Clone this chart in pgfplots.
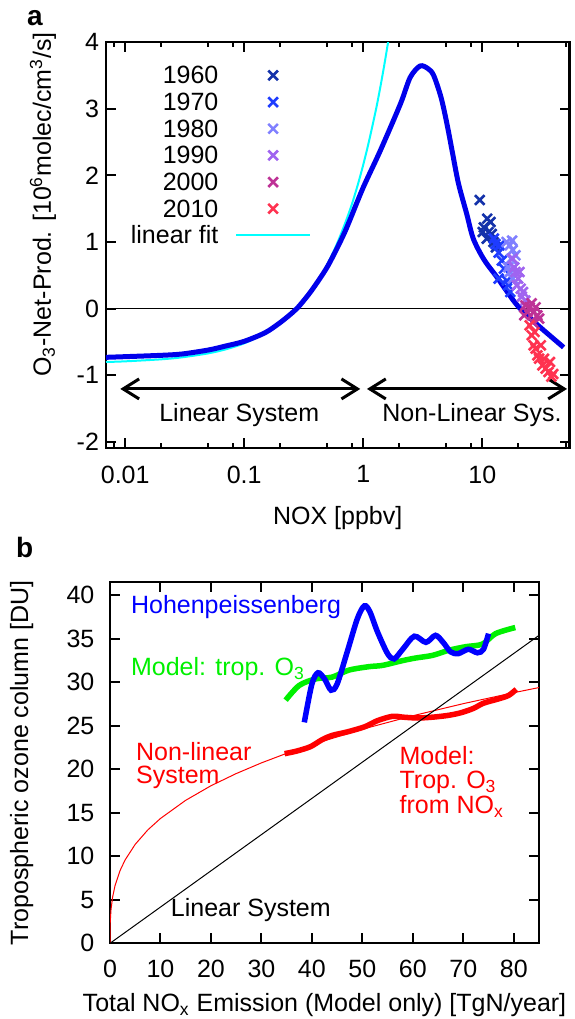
\documentclass[border=0pt]{standalone}
\usepackage{fontspec}
\setmainfont{Liberation Sans}
\usepackage{pgfplots}
\pgfplotsset{compat=1.18}
\usetikzlibrary{arrows.meta}

\definecolor{c1960}{RGB}{20,50,170}
\definecolor{c1970}{RGB}{30,60,255}
\definecolor{c1980}{RGB}{128,128,255}
\definecolor{c1990}{RGB}{160,100,240}
\definecolor{c2000}{RGB}{190,50,150}
\definecolor{c2010}{RGB}{255,50,80}
\definecolor{curveblue}{RGB}{0,0,235}
\definecolor{fitcyan}{RGB}{0,255,255}
\definecolor{mgreen}{RGB}{0,240,0}
\definecolor{mred}{RGB}{255,0,0}
\definecolor{hblue}{RGB}{0,0,255}

\pgfplotsset{
  gp/.style={
    scale only axis,
    tick align=inside,
    major tick length=5pt, minor tick length=2.5pt,
    axis line style={line width=1pt},
    every tick/.append style={black,line width=1pt},
    /pgf/number format/assume math mode=true,
  },
  yr/.style={only marks, mark=x, mark size=3.4pt, line width=1.3pt, color=#1},
}

\begin{document}
\begin{tikzpicture}[font=\fontsize{12.5}{15}\selectfont]
\useasboundingbox (0,0) rectangle (287pt,509.5pt);

% panel a
\begin{axis}[gp,
  at={(53pt,285.5pt)}, anchor=south west,
  width=231.75pt, height=203pt,
  xmode=log, xmin=0.0069, xmax=54, ymin=-2.09, ymax=4,
  xtick={0.01,0.1,1,10}, xticklabels={0.01,0.1,1,10},
  minor xtick={0.008,0.02,0.05,0.08,0.2,0.5,0.8,2,5,8,20,50},
  ytick={-2,-1,0,1,2,3,4},
  xticklabel style={yshift=-5.25pt},
  xlabel={NOX [ppbv]},
  xlabel style={at={(axis description cs:0.5,-0.172)},anchor=center},
  ylabel={O\textsubscript{3}-Net-Prod. [10\textsuperscript{6}molec/cm\textsuperscript{3}/s]},
  ylabel style={at={(axis description cs:-0.136,0.6)},anchor=center},
  legend plot pos=right, legend cell align=right,
  legend image code/.code={\draw[mark repeat=2,mark phase=2,#1] plot coordinates {(0pt,0pt) (18.5pt,0pt) (37pt,0pt)};},
  legend style={draw=none, fill=none, inner sep=0pt,
    at={(axis description cs:0.0485,0.947)}, anchor=north west,
    nodes={inner sep=1pt, text height=9pt, text depth=0.5pt},
    row sep=1.83pt, column sep=7.35pt},
]
\draw[line width=0.5pt] (axis cs:0.0069,0) -- (axis cs:54,0);

\addplot[fitcyan, line width=1pt, smooth, forget plot] coordinates {
(0.0069,-0.80) (0.01,-0.79) (0.02,-0.76) (0.03,-0.73) (0.05,-0.67) (0.07,-0.61)
(0.1,-0.52) (0.15,-0.37) (0.2,-0.22) (0.25,-0.075) (0.3,0.07) (0.4,0.37) (0.5,0.67)
(0.6,0.97) (0.7,1.27) (0.8,1.56) (0.9,1.86) (1.0,2.16) (1.1,2.46) (1.2,2.76)
(1.3,3.05) (1.4,3.35) (1.5,3.65) (1.6,3.95) (1.7,4.25)};

\addplot[curveblue, line width=2.5pt, smooth, forget plot] coordinates {
(0.0069,-0.73) (0.01,-0.72) (0.02,-0.70) (0.03,-0.68) (0.05,-0.62) (0.07,-0.56)
(0.1,-0.49) (0.15,-0.36) (0.2,-0.21) (0.25,-0.07) (0.28,0.01) (0.35,0.22) (0.42,0.42)
(0.5,0.63) (0.6,0.90) (0.7,1.15) (0.78,1.35) (1.0,1.82) (1.39,2.37) (2.05,3.07)
(2.48,3.47) (3.0,3.64) (3.5,3.60) (3.9,3.50) (4.5,3.17) (5.05,2.77) (5.6,2.35)
(6.3,1.88) (7.4,1.42) (8.4,1.05) (10.3,0.74) (13.3,0.47) (18.3,0.12) (22.2,-0.05)
(30.7,-0.28) (48.2,-0.58)};

\addplot[yr=c1960] coordinates {(9.5,1.63) (10.3,1.22) (11.7,1.30) (11.3,1.15) (10.9,1.05)
(12.4,1.00) (11.0,1.35) (12.0,1.12) (10.1,1.15) (13.0,0.92)};
\addlegendentry{1960}
\addplot[yr=c1970] coordinates {(12.9,0.97) (13.7,0.84) (14.6,0.72) (16.1,0.42) (17.2,0.25)
(13.7,0.45) (12.5,1.05) (15.2,0.60) (14.0,0.95) (16.5,0.35)};
\addlegendentry{1970}
\addplot[yr=c1980] coordinates {(16.0,1.00) (17.0,0.95) (17.8,1.02) (18.0,0.88) (17.5,0.75)
(18.5,0.62) (17.0,0.55) (16.5,0.62) (19.0,0.80) (18.0,0.45)};
\addlegendentry{1980}
\addplot[yr=c1990] coordinates {(18.0,0.75) (19.0,0.55) (20.0,0.45) (21.0,0.30) (19.5,0.35)
(22.0,0.25) (18.5,0.62) (20.5,0.55) (21.5,0.18) (23.0,0.12)};
\addlegendentry{1990}
\addplot[yr=c2000] coordinates {(23,0.05) (25,0.02) (27,-0.05) (26,0.08) (29,-0.10)
(24,-0.05) (28,0.02) (30,-0.15) (22.5,-0.10) (26.5,-0.20)};
\addlegendentry{2000}
\addplot[yr=c2010] coordinates {(25,-0.25) (26,-0.40) (27,-0.55) (28,-0.60) (29,-0.70)
(30,-0.75) (32,-0.85) (34,-0.90) (36,-0.95) (38,-1.02) (27.5,-0.35) (31,-0.55)
(33,-0.75) (37,-0.80) (39.5,-0.98)};
\addlegendentry{2010}
\addlegendimage{fitcyan, line width=1pt}
\addlegendentry{linear fit}

\draw[line width=1.5pt, {Straight Barb[length=8pt,width=10pt]}-{Straight Barb[length=8pt,width=10pt]}]
  (axis cs:0.0091,-1.204) -- (axis cs:0.944,-1.204);
\draw[line width=1.5pt, {Straight Barb[length=8pt,width=10pt]}-{Straight Barb[length=8pt,width=10pt]}]
  (axis cs:1.074,-1.204) -- (axis cs:51.5,-1.204);
\node[anchor=base, inner sep=0pt] at (axis cs:0.0908,-1.694) {Linear System};
\node[anchor=base, inner sep=0pt] at (axis cs:8.19,-1.70) {Non-Linear Sys.};
\end{axis}

% panel b
\begin{axis}[gp,
  at={(55pt,37.85pt)}, anchor=south west,
  width=214.5pt, height=180.5pt,
  xmin=0, xmax=85, ymin=0, ymax=41.5,
  xtick={0,10,...,80}, ytick={0,5,...,40},
  xticklabel style={yshift=-4.7pt},
  yticklabel style={xshift=-4.3pt},
  xlabel={Total NO\textsubscript{x} Emission (Model only) [TgN/year]},
  xlabel style={at={(axis description cs:0.5,-0.172)},anchor=center},
  ylabel={Tropospheric ozone column [DU]},
  ylabel style={at={(axis description cs:-0.206,0.5)},anchor=center},
]
\addplot[mred, line width=2.75pt, smooth] coordinates {
(34.6,21.8) (37,22.1) (39.7,22.6) (42,23.4) (44,23.9) (47,24.3) (50.5,24.9) (53,25.6)
(56,26.1) (58,26.0) (61,25.9) (64,26.0) (67,26.2) (69.5,26.5) (72,27.0) (74,27.6)
(77,28.1) (79,28.5) (80.5,29.2)};
\addplot[mgreen, line width=2.75pt, smooth] coordinates {
(34.8,27.95) (37.5,29.65) (40.8,30.4) (44.0,30.6) (47.3,31.4) (51.3,31.8) (54.0,31.95)
(58,32.5) (60.6,32.8) (63.9,33.1) (67.2,33.7) (70.5,34.1) (73.8,34.4) (76.4,35.6) (80.3,36.3)};
\addplot[hblue, line width=2.75pt, smooth] coordinates {
(38.5,25.4) (40,29.8) (41.2,31.1) (42.5,30.4) (43.8,29.1) (45,29.8) (47,33.5) (49,37.3)
(50.4,38.8) (51.5,38.1) (53,35.8) (55,33.3) (56.3,32.7) (58,33.8) (60.3,35.3) (62.6,34.6)
(64.5,35.4) (66,34.6) (67.5,33.5) (69,33.3) (71,33.8) (72.8,33.4) (74,33.8) (75,35.6)};
\addplot[mred, line width=0.5pt] coordinates {
(0,0) (0.05,2.43) (0.2,3.87) (0.5,5.26) (1,6.64) (2,8.37) (3,9.59) (5,11.38) (7.5,13.04)
(10,14.35) (15,16.44) (20,18.11) (25,19.51) (30,20.74) (35,21.84) (40,22.84) (50,24.61)
(60,26.16) (70,27.55) (80,28.81) (85,29.40)};
\addplot[black, line width=0.5pt] coordinates {(0,0) (85,35.4)};

\node[anchor=base west, inner sep=0pt, text=hblue] at (axis cs:4.1,37.9) {Hohenpeissenberg};
\node[anchor=base west, inner sep=0pt, text=mgreen] at (axis cs:4.1,30.8) {Model: trop. O\textsubscript{3}};
\node[anchor=base west, inner sep=0pt, text=mred] at (axis cs:5.1,21.05) {Non-linear};
\node[anchor=base west, inner sep=0pt, text=mred] at (axis cs:5.1,18.4) {System};
\node[anchor=base west, inner sep=0pt] at (axis cs:12,3.05) {Linear System};
\node[anchor=base west, inner sep=0pt, text=mred] at (axis cs:57.3,20.5) {Model:};
\node[anchor=base west, inner sep=0pt, text=mred] at (axis cs:57.3,17.8) {Trop. O\textsubscript{3}};
\node[anchor=base west, inner sep=0pt, text=mred] at (axis cs:57.3,14.9) {from NO\textsubscript{x}};
\end{axis}

\node[font=\fontsize{14}{16}\selectfont\bfseries] at (17.5pt,500.3pt) {a};
\node[font=\fontsize{14}{16}\selectfont\bfseries] at (12.35pt,235.7pt) {b};
\end{tikzpicture}
\end{document}
